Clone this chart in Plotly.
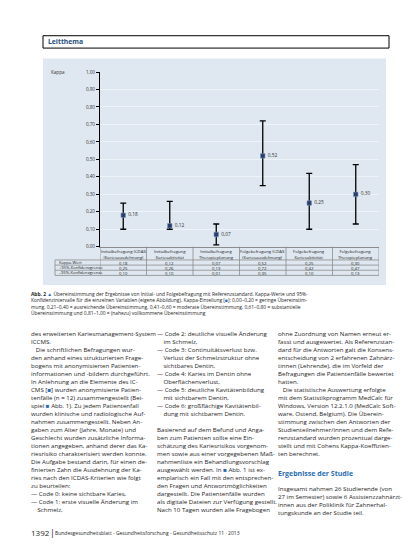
import plotly.graph_objects as go

# Kappa values with 95% confidence limits
categories = [
    "Initialbefragung ICDAS<br>(Kariesausdehnung)",
    "Initialbefragung<br>Kariesaktivität",
    "Initialbefragung<br>Therapieplanung",
    "Folgebefragung ICDAS<br>(Kariesausdehnung)",
    "Folgebefragung<br>Kariesaktivität",
    "Folgebefragung<br>Therapieplanung",
]
kappa = [0.18, 0.12, 0.07, 0.52, 0.25, 0.30]
upper = [0.25, 0.26, 0.13, 0.72, 0.42, 0.47]
lower = [0.10, 0.10, 0.01, 0.35, 0.10, 0.13]
row_labels = ["Kappa-Wert", "+95%-Konfidenzgrenze", "\u201395%-Konfidenzgrenze"]
y_ticks = [0.0, 0.1, 0.2, 0.3, 0.4, 0.5, 0.6, 0.7, 0.8, 0.9, 1.0]

W, H = 413, 550
FONT = "Liberation Sans Narrow, Open Sans, sans-serif"
BLUE = "#2a6db0"
SQ = "<span style='color:%s'>\u25a0</span>" % BLUE


def px(x):
    return x / W


def py(y):
    return 1 - y / H


def de(v):
    return f"{v:.2f}".replace(".", ",")


caption = [
    "<b>Abb. 2</b> <span style='color:%s'>\u25b2</span> Übereinstimmung der Ergebnisse von Initial- und Folgebefragung mit Referenzstandard. Kappa-Werte und 95%%-" % BLUE,
    "Konfidenzintervalle für die einzelnen Variablen (eigene Abbildung). Kappa-Einteilung [%s]: 0,00–0,20 = geringe Übereinstim-" % SQ,
    "mung, 0,21–0,40 = ausreichende Übereinstimmung, 0,41–0,60 = moderate Übereinstimmung, 0,61–0,80 = substantielle",
    "Übereinstimmung und 0,81–1,00 = (nahezu) vollkommene Übereinstimmung",
]

col1 = [
    "des erweiterten Kariesmanagement-System",
    "ICCMS.",
    "\u00a0\u00a0\u00a0Die schriftlichen Befragungen wur-",
    "den anhand eines strukturierten Frage-",
    "bogens mit anonymisierten Patienten-",
    "informationen und -bildern durchgeführt.",
    "In Anlehnung an die Elemente des IC-",
    "CMS [%s] wurden anonymisierte Patien-" % SQ,
    "tenfälle (n = 12) zusammengestellt (Bei-",
    "spiel %s Abb. 1). Zu jedem Patientenfall" % SQ,
    "wurden klinische und radiologische Auf-",
    "nahmen zusammengestellt. Neben An-",
    "gaben zum Alter (Jahre, Monate) und",
    "Geschlecht wurden zusätzliche Informa-",
    "tionen angegeben, anhand derer das Ka-",
    "riesrisiko charakterisiert werden konnte.",
    "Die Aufgabe bestand darin, für einen de-",
    "finierten Zahn die Ausdehnung der Ka-",
    "ries nach den ICDAS-Kriterien wie folgt",
    "zu beurteilen:",
    "— Code 0: keine sichtbare Karies,",
    "— Code 1: erste visuelle Änderung im",
    "\u00a0\u00a0\u00a0\u00a0Schmelz,",
]

col2 = [
    "— Code 2: deutliche visuelle Änderung",
    "\u00a0\u00a0\u00a0\u00a0im Schmelz,",
    "— Code 3: Continuitätsverlust bzw.",
    "\u00a0\u00a0\u00a0\u00a0Verlust der Schmelzstruktur ohne",
    "\u00a0\u00a0\u00a0\u00a0sichtbares Dentin,",
    "— Code 4: Karies im Dentin ohne",
    "\u00a0\u00a0\u00a0\u00a0Oberflächenverlust,",
    "— Code 5: deutliche Kavitätenbildung",
    "\u00a0\u00a0\u00a0\u00a0mit sichtbarem Dentin,",
    "— Code 6: großflächige Kavitätenbil-",
    "\u00a0\u00a0\u00a0\u00a0dung mit sichtbarem Dentin.",
    "\u00a0",
    "Basierend auf dem Befund und Anga-",
    "ben zum Patienten sollte eine Ein-",
    "schätzung des Kariesrisikos vorgenom-",
    "men sowie aus einer vorgegebenen Maß-",
    "nahmenliste ein Behandlungsvorschlag",
    "ausgewählt werden. In %s Abb. 1 ist ex-" % SQ,
    "emplarisch ein Fall mit den entsprechen-",
    "den Fragen und Antwortmöglichkeiten",
    "dargestellt. Die Patientenfälle wurden",
    "als digitale Dateien zur Verfügung gestellt.",
    "Nach 10 Tagen wurden alle Fragebogen",
]

col3 = [
    "ohne Zuordnung von Namen erneut er-",
    "fasst und ausgewertet. Als Referenzstan-",
    "dard für die Antworten galt die Konsens-",
    "entscheidung von 2 erfahrenen Zahnärz-",
    "tinnen (Lehrende), die im Vorfeld der",
    "Befragungen die Patientenfälle bewertet",
    "hatten.",
    "\u00a0\u00a0\u00a0Die statistische Auswertung erfolgte",
    "mit dem Statistikprogramm MedCalc für",
    "Windows, Version 12.2.1.0 (MedCalc Soft-",
    "ware, Ostend, Belgium). Die Überein-",
    "stimmung zwischen den Antworten der",
    "Studienteilnehmer/innen und dem Refe-",
    "renzstandard wurden prozentual darge-",
    "stellt und mit Cohens Kappa-Koeffizien-",
    "ten berechnet.",
]
col3_end = [
    "Insgesamt nahmen 26 Studierende (von",
    "27 im Semester) sowie 6 Assistenzzahnärzt-",
    "innen aus der Poliklinik für Zahnerhal-",
    "tungskunde an der Studie teil.",
]

fig = go.Figure()
fig.add_trace(go.Scatter(
    x=categories, y=kappa,
    mode="markers+text",
    text=["\u00a0" + de(v) for v in kappa],
    textposition="middle right",
    textfont=dict(size=4.8, color="#333333"),
    marker=dict(symbol="square", size=4.5, color="#27406b", line=dict(color="#7f95b8", width=0.6)),
    error_y=dict(
        type="data", symmetric=False,
        array=[u - k for u, k in zip(upper, kappa)],
        arrayminus=[k - l for k, l in zip(kappa, lower)],
        color="black", thickness=1.3, width=3,
    ),
    cliponaxis=False,
    showlegend=False,
))

shapes = [
    # page header box and chart panel
    dict(type="rect", xref="paper", yref="paper", x0=px(35), x1=px(381), y0=py(37.5), y1=py(25),
         line=dict(color="black", width=1)),
    dict(type="rect", xref="paper", yref="paper", x0=px(35), x1=px(378), y0=py(277), y1=py(48),
         fillcolor="#dfe8f1", line=dict(width=0), layer="below"),
    dict(type="line", xref="paper", yref="paper", x0=px(47), x1=px(47), y0=py(251.7), y1=py(267.3),
         line=dict(color="#8c8c8c", width=0.8)),
]
for yy in [251.7, 256.9, 262.1, 267.3]:
    shapes.append(dict(type="line", xref="paper", yref="paper", x0=px(47), x1=px(371), y0=py(yy), y1=py(yy),
                       line=dict(color="#8c8c8c", width=0.8)))
for i in range(len(categories) + 1):
    shapes.append(dict(type="line", xref="x", yref="paper", x0=i - 0.5, x1=i - 0.5, y0=py(238.3), y1=py(267.3),
                       line=dict(color="#8c8c8c", width=0.8)))

annotations = [
    dict(text="<b>Leitthema</b>", x=px(38), y=py(31.3), xref="paper", yref="paper", xanchor="left",
         yanchor="middle", showarrow=False, font=dict(size=6.8, color="#1d4e7a")),
    dict(text="Kappa", x=px(41), y=py(62), xref="paper", yref="paper", xanchor="left",
         yanchor="middle", showarrow=False, font=dict(size=4.6, color="#333333")),
]
for c in categories:
    annotations.append(dict(text=c, x=c, y=py(245.2), xref="x", yref="paper", yanchor="middle",
                            showarrow=False, font=dict(size=4.3, color="#222222")))
for label, vals, yy in zip(row_labels, [kappa, upper, lower], [254.3, 259.5, 264.7]):
    annotations.append(dict(text=label, x=px(48.5), y=py(yy), xref="paper", yref="paper", xanchor="left",
                            yanchor="middle", showarrow=False, font=dict(size=4.1, color="#222222")))
    for c, v in zip(categories, vals):
        annotations.append(dict(text=de(v), x=c, y=py(yy), xref="x", yref="paper", yanchor="middle",
                                showarrow=False, font=dict(size=4.3, color="#222222")))

annotations.append(dict(text="<br>".join(caption), x=px(21), y=py(281.5), xref="paper", yref="paper",
                        xanchor="left", yanchor="top", align="left", showarrow=False,
                        font=dict(size=4.9, color="#1e1e1e")))
for lines, x0, y0 in [(col1, 21, 319), (col2, 147, 319), (col3, 268, 319), (col3_end, 268, 476.4)]:
    annotations.append(dict(text="<br>".join(lines), x=px(x0), y=py(y0), xref="paper", yref="paper",
                            xanchor="left", yanchor="top", align="left", showarrow=False,
                            font=dict(size=6.15, color="#1e1e1e")))
annotations += [
    dict(text="<b>Ergebnisse der Studie</b>", x=px(268), y=py(467.7), xref="paper", yref="paper",
         xanchor="left", yanchor="middle", showarrow=False, font=dict(size=7.0, color=BLUE)),
    dict(text="1392", x=px(21), y=py(527), xref="paper", yref="paper", xanchor="left", yanchor="middle",
         showarrow=False, font=dict(size=8, color="#1e1e1e")),
    dict(text="|", x=px(39.5), y=py(527), xref="paper", yref="paper", xanchor="left", yanchor="middle",
         showarrow=False, font=dict(size=9, color="#1e1e1e")),
    dict(text="Bundesgesundheitsblatt - Gesundheitsforschung - Gesundheitsschutz 11 · 2013",
         x=px(45), y=py(527.5), xref="paper", yref="paper", xanchor="left", yanchor="middle",
         showarrow=False, font=dict(size=5.0, color="#1e1e1e")),
]

fig.update_layout(
    width=W, height=H, autosize=False,
    margin=dict(l=0, r=0, t=0, b=0),
    paper_bgcolor="white",
    plot_bgcolor="rgba(0,0,0,0)",
    separators=",.",
    font=dict(family=FONT, color="#222222"),
    xaxis=dict(
        type="category", range=[-0.5, len(categories) - 0.5],
        domain=[px(92), px(371)],
        showticklabels=False, showgrid=False, zeroline=False,
        showline=True, linecolor="#8c8c8c", linewidth=0.8,
    ),
    yaxis=dict(
        range=[0, 1], domain=[py(238.3), py(61.7)],
        tickvals=y_ticks, tickformat=".2f",
        tickfont=dict(size=4.6, color="#333333"),
        ticks="outside", ticklen=3, tickcolor="black",
        showline=True, linecolor="black", linewidth=1.2,
        showgrid=True, gridcolor="#eef3f8", gridwidth=1,
        zeroline=False,
    ),
    shapes=shapes,
    annotations=annotations,
)

fig.write_html("out.html")
